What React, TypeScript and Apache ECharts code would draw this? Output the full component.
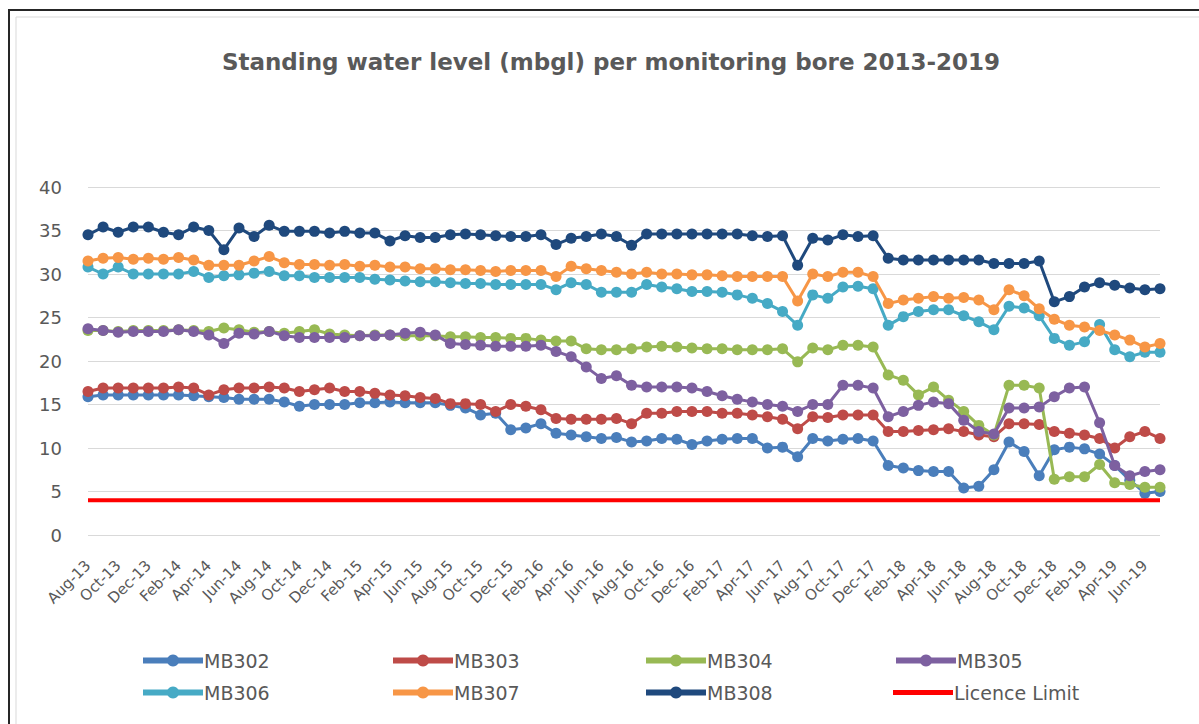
import React, { useEffect, useRef } from "react";
import * as echarts from "echarts";

const months: string[] = [
  "Aug-13","Sep-13","Oct-13","Nov-13","Dec-13","Jan-14","Feb-14","Mar-14","Apr-14","May-14","Jun-14","Jul-14",
  "Aug-14","Sep-14","Oct-14","Nov-14","Dec-14","Jan-15","Feb-15","Mar-15","Apr-15","May-15","Jun-15","Jul-15",
  "Aug-15","Sep-15","Oct-15","Nov-15","Dec-15","Jan-16","Feb-16","Mar-16","Apr-16","May-16","Jun-16","Jul-16",
  "Aug-16","Sep-16","Oct-16","Nov-16","Dec-16","Jan-17","Feb-17","Mar-17","Apr-17","May-17","Jun-17","Jul-17",
  "Aug-17","Sep-17","Oct-17","Nov-17","Dec-17","Jan-18","Feb-18","Mar-18","Apr-18","May-18","Jun-18","Jul-18",
  "Aug-18","Sep-18","Oct-18","Nov-18","Dec-18","Jan-19","Feb-19","Mar-19","Apr-19","May-19","Jun-19","Jul-19",
];

const mb302: number[] = [
  15.9,16.1,16.1,16.1,16.1,16.1,16.1,16.0,15.9,15.8,15.6,15.6,
  15.6,15.3,14.8,15.0,15.0,15.0,15.2,15.2,15.3,15.2,15.2,15.2,
  14.9,14.6,13.8,14.0,12.1,12.3,12.8,11.7,11.5,11.3,11.1,11.2,
  10.7,10.8,11.1,11.0,10.4,10.8,11.0,11.1,11.1,10.0,10.1,9.0,
  11.1,10.8,11.0,11.1,10.8,8.0,7.7,7.4,7.3,7.3,5.4,5.6,
  7.5,10.7,9.6,6.8,9.8,10.1,9.9,9.3,8.0,6.3,4.8,5.0,
];
const mb303: number[] = [
  16.5,16.9,16.9,16.9,16.9,16.9,17.0,16.9,16.1,16.7,16.9,16.9,
  17.0,16.9,16.5,16.7,16.9,16.5,16.5,16.3,16.1,16.0,15.8,15.7,
  15.1,15.1,15.0,14.2,15.0,14.8,14.4,13.4,13.3,13.3,13.3,13.4,
  12.8,14.0,14.0,14.2,14.2,14.2,14.0,14.0,13.8,13.6,13.3,12.2,
  13.6,13.5,13.8,13.8,13.8,11.9,11.9,12.0,12.1,12.2,11.9,11.5,
  11.3,12.8,12.8,12.7,11.9,11.7,11.5,11.1,10.0,11.3,11.9,11.1,
];
const mb304: number[] = [
  23.5,23.5,23.4,23.5,23.5,23.5,23.6,23.5,23.4,23.8,23.6,23.3,
  23.4,23.2,23.4,23.6,23.1,23.0,22.9,23.0,23.0,22.9,22.9,22.9,
  22.8,22.8,22.7,22.7,22.6,22.6,22.4,22.3,22.3,21.4,21.3,21.3,
  21.4,21.6,21.7,21.6,21.5,21.4,21.4,21.3,21.3,21.3,21.4,19.9,
  21.5,21.3,21.8,21.8,21.6,18.4,17.8,16.1,17.0,15.5,14.2,12.6,
  11.5,17.2,17.2,16.9,6.4,6.7,6.7,8.1,6.0,5.8,5.5,5.5,
];
const mb305: number[] = [
  23.7,23.5,23.3,23.4,23.4,23.4,23.6,23.4,23.0,22.0,23.2,23.1,
  23.4,22.9,22.7,22.7,22.7,22.7,22.9,22.9,23.0,23.2,23.3,23.0,
  22.0,21.9,21.8,21.7,21.7,21.7,21.8,21.1,20.5,19.3,18.0,18.3,
  17.2,17.0,17.0,17.0,16.9,16.5,16.0,15.6,15.3,15.0,14.8,14.2,
  15.0,15.0,17.2,17.2,16.9,13.6,14.2,14.9,15.3,15.1,13.2,11.9,
  11.6,14.6,14.6,14.7,15.9,16.9,17.0,12.9,8.0,6.8,7.3,7.5,
];
const mb306: number[] = [
  30.8,30.0,30.8,30.0,30.0,30.0,30.0,30.3,29.6,29.8,29.9,30.1,
  30.3,29.8,29.8,29.6,29.6,29.6,29.6,29.4,29.3,29.2,29.1,29.1,
  29.0,28.9,28.9,28.8,28.8,28.8,28.8,28.2,29.0,28.8,27.9,27.9,
  27.9,28.8,28.5,28.3,28.0,28.0,27.9,27.6,27.2,26.6,25.7,24.1,
  27.6,27.2,28.5,28.6,28.3,24.1,25.1,25.7,25.9,25.9,25.2,24.5,
  23.6,26.3,26.1,25.2,22.6,21.8,22.2,24.2,21.3,20.5,21.0,21.0,
];
const mb307: number[] = [
  31.5,31.8,31.9,31.7,31.8,31.7,31.9,31.6,31.0,31.0,31.0,31.5,
  32.0,31.3,31.1,31.1,31.0,31.1,30.9,31.0,30.8,30.8,30.6,30.6,
  30.5,30.5,30.4,30.3,30.4,30.4,30.4,29.7,30.9,30.6,30.4,30.2,
  30.0,30.2,30.0,30.0,29.9,29.9,29.8,29.7,29.7,29.7,29.7,26.9,
  30.0,29.7,30.2,30.2,29.7,26.6,27.0,27.2,27.4,27.2,27.3,27.0,
  25.9,28.2,27.5,26.0,24.8,24.1,23.9,23.5,23.0,22.4,21.6,22.0,
];
const mb308: number[] = [
  34.5,35.4,34.8,35.4,35.4,34.8,34.5,35.4,35.0,32.8,35.3,34.3,
  35.6,34.9,34.9,34.9,34.7,34.9,34.7,34.7,33.8,34.4,34.2,34.2,
  34.5,34.6,34.5,34.4,34.3,34.3,34.5,33.4,34.1,34.3,34.6,34.3,
  33.3,34.6,34.6,34.6,34.6,34.6,34.6,34.6,34.4,34.3,34.4,31.0,
  34.1,33.9,34.5,34.3,34.4,31.8,31.6,31.6,31.6,31.6,31.6,31.6,
  31.2,31.2,31.2,31.5,26.8,27.4,28.5,29.0,28.7,28.4,28.2,28.3,
];
const licenceLimit: number[] = months.map(() => 4);

const seriesNames = ["MB302", "MB303", "MB304", "MB305", "MB306", "MB307", "MB308", "Licence Limit"];
const seriesData = [mb302, mb303, mb304, mb305, mb306, mb307, mb308, licenceLimit];
const seriesColors = ["#4A7EBB", "#BE4B48", "#98B954", "#7D60A0", "#46AAC5", "#F79646", "#1F497D", "#FF0000"];

const legendCols = [135, 385, 638, 888];
const legendRows = [646, 678];

export default function App() {
  const ref = useRef<HTMLDivElement>(null);
  useEffect(() => {
    if (!ref.current) return;
    const chart = echarts.init(ref.current, undefined, { renderer: "svg" });
    const series: any[] = seriesNames.map((name, idx) => {
      const isLimit = name === "Licence Limit";
      return {
        name,
        type: "line",
        data: seriesData[idx],
        symbol: isLimit ? "none" : "circle",
        symbolSize: 11,
        showSymbol: !isLimit,
        showAllSymbol: true,
        lineStyle: { width: isLimit ? 4 : 3, color: seriesColors[idx] },
        itemStyle: { color: seriesColors[idx] },
        z: 2 + idx,
      };
    });
    const legends: any[] = seriesNames.map((name, idx) => {
      const isLimit = name === "Licence Limit";
      return {
        data: [name],
        left: legendCols[idx % 4],
        top: legendRows[Math.floor(idx / 4)],
        itemWidth: 60,
        itemHeight: isLimit ? 5 : 15,
        icon: isLimit ? "rect" : undefined,
        itemGap: 0,
        lineStyle: { width: 6 },
        textStyle: { fontFamily: "DejaVu Sans", fontSize: 19, color: "#595959", padding: [0, 0, 0, -4] },
        selectedMode: false,
      };
    });
    chart.setOption({
      animation: false,
      backgroundColor: "#ffffff",
      title: {
        text: "Standing water level (mbgl) per monitoring bore 2013-2019",
        left: 606,
        textAlign: "center",
        top: 45,
        textStyle: { fontFamily: "DejaVu Sans", fontSize: 23, fontWeight: "bold", color: "#595959" },
      },
      grid: { left: 88, right: 39, top: 187, bottom: 189, containLabel: false },
      xAxis: {
        type: "category",
        data: months,
        boundaryGap: false,
        axisLine: { show: false },
        axisTick: { show: false },
        axisLabel: { rotate: 45, interval: 1, fontSize: 15, color: "#595959", fontFamily: "DejaVu Sans", margin: 28 },
      },
      yAxis: {
        type: "value",
        min: 0,
        max: 40,
        interval: 5,
        axisLine: { show: false },
        axisTick: { show: false },
        splitLine: { lineStyle: { color: "#D9D9D9", width: 1 } },
        axisLabel: { fontSize: 18, color: "#595959", fontFamily: "DejaVu Sans", margin: 26 },
      },
      legend: legends,
      graphic: [
        { type: "rect", shape: { x: 9, y: 10, width: 1200, height: 730 }, style: { fill: "none", stroke: "#262626", lineWidth: 2 }, silent: true },
        { type: "rect", shape: { x: 16, y: 17, width: 1200, height: 730 }, style: { fill: "none", stroke: "#D9D9D9", lineWidth: 1 }, silent: true },
      ],
      series,
    });
    return () => chart.dispose();
  }, []);
  return <div ref={ref} style={{ position: "fixed", left: 0, top: 0, width: 1199, height: 724 }} />;
}
